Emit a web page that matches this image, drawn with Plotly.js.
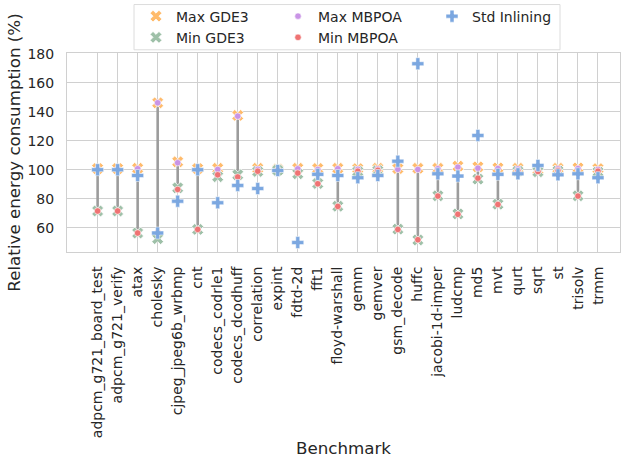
<!DOCTYPE html>
<html>
<head>
<meta charset="utf-8">
<script src="https://cdn.plot.ly/plotly-3.0.1.min.js"></script>
<style>html,body{margin:0;padding:0;background:#fff;}#chart{width:621px;height:458px;}</style>
</head>
<body>
<div id="chart"></div>
<script>
const benchmarks = ["adpcm_g721_board_test","adpcm_g721_verify","atax","cholesky","cjpeg_jpeg6b_wrbmp","cnt","codecs_codrle1","codecs_dcodhuff","correlation","expint","fdtd-2d","fft1","floyd-warshall","gemm","gemver","gsm_decode","huffc","jacobi-1d-imper","ludcmp","md5","mvt","qurt","sqrt","st","trisolv","trmm"];
const maxGDE3  = [100.8,100.8,101.0,146.2,105.5,100.8,101.0,137.5,101.0,100.3,101.0,100.9,101.0,100.8,101.0,100.8,101.0,101.0,102.5,102.0,101.3,101.0,100.0,101.0,101.3,100.8];
const minGDE3  = [71.5,71.5,56.3,52.4,87.5,58.8,95.2,96.5,98.8,99.6,97.2,90.5,74.8,98.8,99.4,59.0,51.5,82.0,69.5,93.5,76.2,99.0,98.6,99.2,82.0,98.5];
const maxMBPOA = [100.5,100.5,100.7,146.2,104.8,100.0,100.2,137.0,100.3,99.9,100.6,100.2,100.7,100.3,100.5,100.3,100.2,100.7,101.8,101.1,100.8,100.5,99.3,100.6,100.8,100.2];
const minMBPOA = [71.5,71.5,56.3,56.5,86.4,58.8,96.5,95.0,99.0,99.7,97.7,90.3,74.7,99.0,99.6,58.8,51.7,81.8,69.2,94.2,76.0,99.2,98.8,99.5,81.8,99.0];
const stdInlining = [100.0,100.0,96.0,56.3,78.3,100.0,77.2,89.2,87.0,99.5,49.7,96.8,96.0,94.5,96.0,105.9,173.2,97.2,95.6,123.7,96.8,97.2,103.0,96.5,97.2,94.5];
const yTicks = [60,80,100,120,140,160,180];

// layout geometry (px)
const W = 621, H = 458;
const L = 67, R = 620, T = 52.5, B = 251.7;
const pw = R - L, ph = B - T;
const px = v => (v - L) / pw;
const py = v => (B - v) / ph;

const idx = benchmarks.map((_, i) => i);
const lx = [], ly = [];
idx.forEach(i => { lx.push(i, i, null); ly.push(maxMBPOA[i], minMBPOA[i], null); });

const txt = '#262626';
const traces = [
  {type:'scatter', mode:'lines', x:lx, y:ly, showlegend:false, hoverinfo:'skip',
   line:{color:'#9c9c9c', width:2.6}},
  {type:'scatter', mode:'markers', name:'Max GDE3', x:idx, y:maxGDE3, legend:'legend',
   marker:{symbol:'x', size:10.5, color:'#ffbb6b', line:{color:'#ffffff', width:0.8}}},
  {type:'scatter', mode:'markers', name:'Min GDE3', x:idx, y:minGDE3, legend:'legend',
   marker:{symbol:'x', size:10.5, color:'#9ec0a8', line:{color:'#ffffff', width:0.8}}},
  {type:'scatter', mode:'markers', name:'Max MBPOA', x:idx, y:maxMBPOA, legend:'legend2',
   marker:{symbol:'circle', size:6.5, color:'#c994e6', line:{color:'#ffffff', width:0.6}}},
  {type:'scatter', mode:'markers', name:'Min MBPOA', x:idx, y:minMBPOA, legend:'legend2',
   marker:{symbol:'circle', size:6.5, color:'#ef7373', line:{color:'#ffffff', width:0.6}}},
  {type:'scatter', mode:'markers', name:'Std Inlining', x:idx, y:stdInlining, legend:'legend3',
   marker:{symbol:'cross', size:10, color:'#7ba7e0', line:{color:'#ffffff', width:0.5}}}
];

const legBase = {xanchor:'left', yanchor:'top', y: py(0), bgcolor:'rgba(0,0,0,0)', borderwidth:0,
  font:{family:'DejaVu Sans', size:14, color:txt}, traceorder:'normal'};

const layout = {
  width: W, height: H,
  margin: {l: L, r: W - R, t: T, b: H - B, pad: 0},
  paper_bgcolor:'#ffffff', plot_bgcolor:'#ffffff',
  font:{family:'DejaVu Sans', size:14, color:txt},
  xaxis: {
    range:[-1.53, 26.1], tickmode:'array', tickvals:idx, ticktext:benchmarks, tickangle:-90,
    showgrid:true, gridcolor:'#d0d0d0', gridwidth:1, zeroline:false,
    showline:true, linecolor:'#d0d0d0', linewidth:1, mirror:true, ticks:'',
    ticklabelstandoff: 8,
    tickfont:{family:'DejaVu Sans', size:14, color:txt},
    title:{text:'Benchmark', font:{family:'DejaVu Sans', size:16.7, color:txt}, standoff:10}
  },
  yaxis: {
    range:[43.2, 180.6], tickmode:'array', tickvals:yTicks, ticktext:yTicks.map(String),
    showgrid:true, gridcolor:'#d0d0d0', gridwidth:1, zeroline:false,
    showline:true, linecolor:'#d0d0d0', linewidth:1, mirror:true, ticks:'',
    ticklabelstandoff: 9,
    tickfont:{family:'DejaVu Sans', size:14, color:txt},
    title:{text:'Relative energy consumption (%)', font:{family:'DejaVu Sans', size:16.7, color:txt}, standoff:2}
  },
  legend: Object.assign({}, legBase, {x: px(136)}),
  legend2: Object.assign({}, legBase, {x: px(278)}),
  legend3: Object.assign({}, legBase, {x: px(432)}),
  shapes: [{type:'rect', xref:'paper', yref:'paper', x0:px(134), x1:px(560), y0:py(49.3), y1:py(4),
    fillcolor:'#ffffff', line:{color:'#dcdcdc', width:1}, layer:'above'}],
  showlegend:true
};

Plotly.newPlot('chart', traces, layout, {displayModeBar:false, staticPlot:true});
</script>
</body>
</html>
